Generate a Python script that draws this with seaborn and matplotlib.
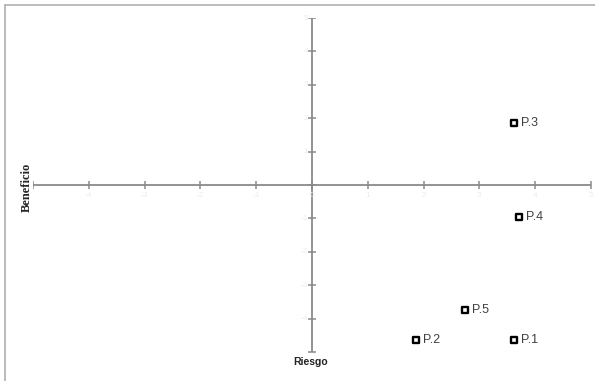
import numpy as np
import pandas as pd
import matplotlib
matplotlib.use("Agg")
import matplotlib.pyplot as plt
import seaborn as sns

# datos del gráfico (riesgo = eje x, beneficio = eje y)
proyectos = ["P.1", "P.2", "P.3", "P.4", "P.5"]
riesgo = [3.62, 1.86, 3.62, 3.71, 2.74]
beneficio = [-4.64, -4.64, 1.85, -0.95, -3.75]
ticks = [-5, -4, -3, -2, -1, 0, 1, 2, 3, 4, 5]

df = pd.DataFrame({"Proyecto": proyectos, "Riesgo": riesgo, "Beneficio": beneficio})

sns.set_style("white")
plt.rcParams["font.family"] = ["Liberation Sans", "DejaVu Sans"]

W, H = 595, 381
fig = plt.figure(figsize=(W / 100, H / 100), dpi=100)

# marco gris izquierda / arriba
fig.add_artist(plt.Line2D([5 / W, 5 / W], [0, 1 - 5 / H], color="#b0b0b0", lw=1.2))
fig.add_artist(plt.Line2D([5 / W, 1], [1 - 5 / H, 1 - 5 / H], color="#b0b0b0", lw=1.2))

x0, x1, y0, y1 = 33, 591, 18, 352
ax = fig.add_axes([x0 / W, 1 - y1 / H, (x1 - x0) / W, (y1 - y0) / H])
ax.set_xlim(-5, 5)
ax.set_ylim(-5, 5)
ax.axis("off")

gris = "#8a8a8a"
ax.plot([-5, 5], [0, 0], color=gris, lw=1.3, zorder=1)
ax.plot([0, 0], [-5, 5], color=gris, lw=1.3, zorder=1)
ax.scatter(ticks, [0] * len(ticks), marker="|", s=30, color=gris, lw=1.1, zorder=1)
ax.scatter([0] * len(ticks), ticks, marker="_", s=30, color=gris, lw=1.1, zorder=1)

# etiquetas de los ejes casi invisibles
for t in ticks:
    if t != -5:
        ax.text(t, -0.2, str(t), ha="center", va="top", fontsize=6, color="#ececec")
    if t not in (0, -5):
        ax.text(-0.07, t, str(t), ha="right", va="center", fontsize=6, color="#ececec")

sns.scatterplot(data=df, x="Riesgo", y="Beneficio", marker="s", s=24,
                facecolor="white", edgecolor="black", linewidth=1.7, ax=ax, zorder=3)
for _, r in df.iterrows():
    ax.annotate(r["Proyecto"], (r["Riesgo"], r["Beneficio"]), xytext=(5, 0),
                textcoords="offset points", va="center", ha="left",
                fontsize=9, color="#404040")

fig.text(27 / W, 1 - 187 / H, "Beneficio", rotation=90, ha="center", va="center",
         fontsize=9, fontweight="bold", family=["Liberation Serif", "DejaVu Serif"])
fig.text(311 / W, 1 - 362 / H, "Riesgo", ha="center", va="center",
         fontsize=7.5, fontweight="bold", color="#222222")

fig.savefig("out.png", dpi=100, facecolor="white")
